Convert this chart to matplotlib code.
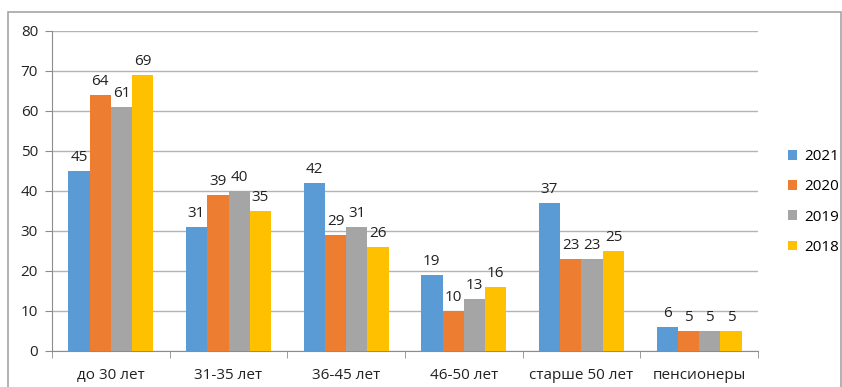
import numpy as np
import matplotlib.pyplot as plt
from matplotlib.patches import Rectangle

# data
categories = ['до 30 лет', '31-35 лет', '36-45 лет', '46-50 лет', 'старше 50 лет', 'пенсионеры']
years = ['2021', '2020', '2019', '2018']
v2021 = [45, 31, 42, 19, 37, 6]
v2020 = [64, 39, 29, 10, 23, 5]
v2019 = [61, 40, 31, 13, 23, 5]
v2018 = [69, 35, 26, 16, 25, 5]
series = [v2021, v2020, v2019, v2018]
colors = ['#5B9BD5', '#ED7D31', '#A5A5A5', '#FFC000']

plt.rcParams['font.family'] = ['Open Sans', 'DejaVu Sans']
fs = 11

fig = plt.figure(figsize=(8.42, 3.87), dpi=100)
ax = fig.add_axes([52/842, 1-351/387, (758-52)/842, (351-31)/387])

# outer chart frame
fig.patches.append(Rectangle((8/842, -0.1), 833/842, 1.1 - 12/387,
                             transform=fig.transFigure, fill=False,
                             edgecolor='#A6A6A6', linewidth=1.2))

x = np.arange(len(categories))
w = 0.181
for i, (vals, c, yr) in enumerate(zip(series, colors, years)):
    pos = x + (i - 1.5) * w
    bars = ax.bar(pos, vals, width=w, color=c, label=yr, zorder=3)
    for b, v in zip(bars, vals):
        ax.annotate(str(v), (b.get_x() + b.get_width()/2, v),
                    xytext=(0, 4), textcoords='offset points',
                    ha='center', va='bottom', fontsize=fs, color='#222222')

ax.set_xlim(-0.5, len(categories) - 0.5)
ax.set_ylim(0, 80)
ax.set_yticks(range(0, 81, 10))
ax.yaxis.grid(True, color='#B3B3B3', linewidth=1.0, zorder=0)
ax.set_xticks(x)
ax.set_xticklabels(categories)
ax.set_xticks(np.arange(-0.5, len(categories)), minor=True)
ax.tick_params(axis='x', which='major', length=0, pad=12, labelsize=fs, labelcolor='#222222')
ax.tick_params(axis='x', which='minor', length=5, color='#8C8C8C')
ax.tick_params(axis='y', length=5, color='#8C8C8C', pad=5, labelsize=fs, labelcolor='#222222')

for s in ['top', 'right']:
    ax.spines[s].set_visible(False)
for s in ['left', 'bottom']:
    ax.spines[s].set_color('#8C8C8C')

leg = fig.legend(loc='center left', bbox_to_anchor=(774/842, 1-202/387),
                 frameon=False, fontsize=fs, handlelength=0.6, handleheight=0.6,
                 handletextpad=0.5, labelspacing=1.0)

fig.savefig('out.png', dpi=100)
